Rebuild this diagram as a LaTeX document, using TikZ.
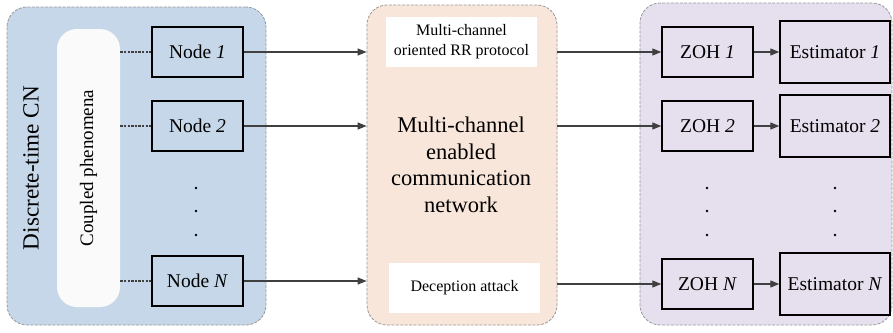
\documentclass[tikz,border=0pt]{standalone}
\usepackage{fontspec}
\setmainfont{Liberation Serif}
\usetikzlibrary{positioning, arrows.meta}
\definecolor{cnblue}{RGB}{197,215,232}
\definecolor{netpeach}{RGB}{248,230,218}
\definecolor{estlilac}{RGB}{230,224,238}
\definecolor{linegray}{RGB}{64,64,64}

\begin{document}
\begin{tikzpicture}[
  x=0.5pt, y=-0.5pt,
  panel/.style={draw=gray!80, dash pattern=on 1.5pt off 0.7pt, line width=0.4pt,
                rounded corners=10pt, inner sep=0pt},
  block/.style={draw=black, line width=0.7pt, inner sep=0pt,
                minimum width=45.5pt, minimum height=25pt,
                font=\fontsize{9.75}{11}\selectfont},
  estbox/.style={block, minimum width=55pt, minimum height=31pt},
  whitebox/.style={fill=white, inner sep=0pt, minimum width=75.5pt,
                   minimum height=25pt, align=center,
                   font=\fontsize{8}{10}\selectfont},
  arrow/.style={-{Triangle[length=4.5pt,width=3.5pt]}, line width=0.6pt, draw=linegray},
  link/.style={line width=0.6pt, draw=linegray, dash pattern=on 1.2pt off 0.6pt}
]
\useasboundingbox (0,0) rectangle (893,332);
% panels
\node[panel, fill=cnblue, minimum width=129.5pt, minimum height=159pt] (cn) at (136.5,166) {};
\node[panel, fill=netpeach, minimum width=95pt, minimum height=160pt] (net) at (462,165) {};
\node[panel, fill=estlilac, minimum width=126pt, minimum height=161pt] (est) at (766,164) {};
% network side
\node[rotate=90, font=\fontsize{11.6}{14}\selectfont] (title) at (31,168) {Discrete-time CN};
\node[fill=white!96!gray, rounded corners=10pt, inner sep=0pt,
      minimum width=31.5pt, minimum height=139pt] (phen) at (88.5,168) {};
\node[rotate=90, font=\fontsize{9.5}{11}\selectfont] (phentext) at (phen.center) {Coupled phenomena};
\node[block] (node1) at (197.5,52) {Node \textit{1}};
\node[block] (node2) at (197.5,126) {Node \textit{2}};
\node[block] (nodeN) at (197.5,281) {Node \textit{N}};
% communication network
\node[whitebox] (proto) at (461.5,41.5) {Multi-channel\\oriented RR protocol};
\node[align=center, font=\fontsize{11.25}{13.3}\selectfont] (nettext) at (461,165)
  {Multi-channel\\enabled\\communication\\network};
\node[whitebox] (attack) at (464.5,287.5) {Deception attack};
% remote estimators
\node[block] (zoh1) at (707.5,52) {ZOH \textit{1}};
\node[block] (zoh2) at (707.5,126) {ZOH \textit{2}};
\node[block] (zohN) at (707.5,284) {ZOH \textit{N}};
\node[estbox] (est1) at (835,52) {Estimator \textit{1}};
\node[estbox] (est2) at (835,126) {Estimator \textit{2}};
\node[estbox] (estN) at (835,284) {Estimator \textit{N}};
% vertical dots
\foreach \x in {196,707,835}
  \foreach \y in {188,211,235}
    \fill (\x,\y) circle (0.7pt);
% connectors
\draw[link] (phen.east |- node1.west) -- (node1.west);
\draw[link] (phen.east |- node2.west) -- (node2.west);
\draw[link] (phen.east |- nodeN.west) -- (nodeN.west);
\draw[arrow] (node1.east) -- (node1.east -| net.west);
\draw[arrow] (node2.east) -- (node2.east -| net.west);
\draw[arrow] (nodeN.east) -- (nodeN.east -| net.west);
\draw[arrow] (zoh1.west -| net.east) -- (zoh1.west);
\draw[arrow] (zoh2.west -| net.east) -- (zoh2.west);
\draw[arrow] (zohN.west -| net.east) -- (zohN.west);
\draw[arrow] (zoh1.east) -- (est1.west);
\draw[arrow] (zoh2.east) -- (est2.west);
\draw[arrow] (zohN.east) -- (estN.west);
\end{tikzpicture}
\end{document}
